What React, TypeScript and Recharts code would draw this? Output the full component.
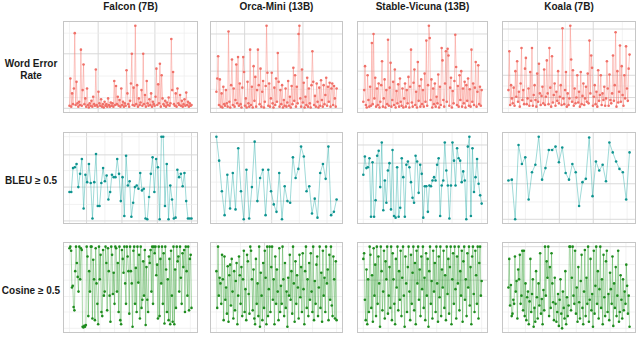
import React from 'react';
import { LineChart, Line, XAxis, YAxis, ReferenceLine } from 'recharts';

// column titles and row labels
const models = ['Falcon (7B)', 'Orca-Mini (13B)', 'Stable-Vicuna (13B)', 'Koala (7B)'];
const metrics = [['Word Error', 'Rate'], ['BLEU ≥ 0.5'], ['Cosine ≥ 0.5']];

// Word error rate (scaled 0-100 of each panel's range)
const werFalcon = [
  3, 36, 2, 18, 5, 24, 91, 4, 32, 6, 2, 8, 4, 71, 3, 22, 53, 5, 12, 2,
  24, 4, 1, 6, 3, 9, 2, 14, 5, 3, 47, 4, 2, 20, 6, 3, 11, 2, 5, 1,
  8, 3, 5, 2, 12, 4, 2, 7, 3, 6, 2, 33, 4, 27, 5, 14, 3, 10, 2, 24,
  4, 8, 2, 6, 3, 46, 18, 5, 2, 9, 30, 66, 4, 25, 3, 100, 5, 28, 2, 12,
  4, 7, 22, 3, 66, 5, 16, 2, 33, 6, 3, 11, 4, 18, 2, 8, 5, 3, 14, 48,
  4, 29, 6, 54, 2, 40, 12, 5, 3, 9, 2, 7, 4, 13, 3, 6, 84, 22, 44, 5,
  3, 18, 2, 24, 6, 4, 16, 3, 9, 2, 5, 11, 3, 19, 4, 8, 2, 6, 3, 4,
];
const werOrca = [
  20, 36, 63, 4, 35, 2, 18, 1, 26, 5, 3, 22, 6, 2, 93, 8, 1, 28, 59, 4,
  24, 2, 10, 53, 6, 62, 3, 30, 5, 1, 25, 62, 44, 3, 12, 1, 32, 6, 2, 71,
  4, 26, 1, 51, 9, 38, 2, 22, 71, 28, 5, 48, 2, 20, 33, 1, 8, 27, 100, 43,
  3, 30, 2, 12, 43, 6, 1, 25, 4, 36, 8, 67, 32, 2, 22, 5, 28, 1, 10, 3,
  24, 2, 7, 33, 3, 14, 1, 27, 5, 49, 9, 40, 2, 26, 6, 90, 100, 12, 2, 47,
  7, 31, 1, 14, 4, 37, 2, 24, 6, 1, 28, 69, 32, 4, 15, 2, 30, 8, 1, 25,
  3, 34, 10, 2, 28, 5, 16, 37, 3, 26, 8, 31, 2, 24, 30, 4, 27, 12, 2, 24,
];
const werStable = [
  8, 22, 51, 4, 1, 40, 10, 2, 26, 3, 79, 5, 90, 12, 37, 2, 24, 4, 30, 1,
  8, 28, 57, 2, 12, 35, 1, 22, 5, 83, 3, 25, 55, 2, 10, 32, 4, 47, 1, 21,
  6, 29, 2, 36, 8, 3, 24, 1, 12, 30, 2, 22, 6, 38, 1, 26, 71, 7, 2, 31,
  47, 4, 20, 1, 56, 9, 27, 2, 35, 5, 22, 2, 42, 8, 82, 3, 28, 100, 85, 10,
  35, 1, 24, 5, 30, 2, 14, 6, 41, 1, 26, 4, 73, 58, 10, 2, 30, 69, 8, 72,
  64, 3, 25, 37, 1, 21, 6, 33, 89, 50, 4, 27, 2, 40, 10, 45, 2, 24, 6, 32,
  1, 28, 9, 36, 3, 23, 2, 71, 8, 30, 4, 25, 56, 2, 20, 52, 5, 26, 3, 22,
];
const werKoala = [
  22, 69, 4, 28, 12, 6, 25, 3, 45, 14, 57, 8, 20, 2, 30, 73, 10, 22, 5, 48,
  61, 5, 12, 24, 3, 44, 9, 73, 3, 16, 28, 10, 2, 42, 8, 54, 18, 4, 15, 26,
  6, 47, 4, 14, 58, 18, 5, 73, 25, 2, 63, 7, 16, 30, 3, 20, 9, 45, 6, 14,
  28, 4, 97, 12, 5, 22, 44, 2, 18, 4, 12, 100, 59, 8, 46, 3, 24, 6, 13, 40,
  7, 20, 2, 44, 5, 15, 30, 4, 12, 26, 8, 42, 6, 82, 18, 64, 49, 3, 14, 28,
  5, 20, 2, 46, 9, 16, 40, 4, 18, 10, 26, 3, 12, 57, 24, 3, 41, 10, 6, 18,
  64, 9, 28, 92, 2, 45, 7, 20, 76, 8, 51, 16, 3, 40, 12, 75, 24, 9, 48, 65,
];

// BLEU >= 0.5
const bleuFalcon = [
  33, 33, 62, 63, 67, 39, 55, 73, 13, 54, 45, 67, 44, 1, 45, 79, 16, 16, 44, 62,
  46, 53, 24, 33, 54, 51, 51, 73, 55, 22, 51, 4, 77, 41, 46, 3, 20, 39, 41, 37,
  56, 35, 37, 1, 0, 27, 55, 75, 33, 73, 63, 0, 100, 100, 16, 67, 0, 41, 24, 1,
  2, 60, 51, 55, 40, 56, 22, 1, 1, 1,
];
const bleuOrca = [
  100, 71, 34, 5, 54, 13, 56, 12, 86, 34, 0, 60, 1, 39, 94, 22, 50, 60, 5, 60,
  34, 18, 9, 56, 0, 40, 22, 20, 75, 50, 61, 88, 76, 34, 40, 7, 25, 2, 56, 67,
  49, 88, 5, 9, 24,
];
const bleuStable = [
  54, 76, 62, 63, 74, 3, 69, 3, 23, 77, 83, 39, 93, 11, 47, 20, 59, 68, 12, 84,
  4, 2, 63, 3, 14, 74, 51, 3, 66, 70, 63, 45, 26, 20, 77, 70, 32, 66, 55, 2,
  40, 40, 9, 41, 40, 47, 51, 47, 66, 74, 4, 41, 47, 93, 59, 41, 1, 41, 93, 71,
  41, 86, 74, 71, 45, 58, 47, 0, 88, 100, 4, 86, 33, 51, 73, 43, 29, 19,
];
const bleuKoala = [
  47, 48, 0, 90, 67, 75, 24, 57, 66, 100, 48, 62, 84, 84, 88, 69, 87, 56, 48, 67,
  57, 16, 45, 49, 99, 28, 70, 59, 66, 46, 93, 81, 70, 61, 57, 24, 81,
];

// Cosine >= 0.5
const cosFalcon = [
  98, 100, 95, 50, 52, 26, 22, 70, 100, 80, 63, 45, 100, 60, 98, 96, 2, 1, 3, 2,
  4, 100, 88, 15, 70, 45, 100, 100, 12, 84, 60, 10, 98, 55, 30, 5, 100, 60, 90, 20,
  15, 96, 40, 45, 100, 80, 22, 98, 70, 40, 8, 100, 90, 42, 68, 30, 100, 98, 45, 80,
  20, 100, 10, 5, 96, 85, 68, 100, 55, 30, 100, 88, 70, 18, 100, 70, 55, 2, 95, 100,
  30, 74, 20, 100, 56, 90, 12, 100, 25, 35, 82, 40, 96, 4, 75, 35, 20, 88, 80, 96,
  45, 100, 30, 100, 92, 100, 65, 78, 12, 100, 15, 85, 55, 100, 30, 92, 6, 100, 72, 20,
  60, 10, 85, 5, 95, 40, 8, 100, 5, 72, 25, 100, 82, 88, 45, 100, 62, 30, 92, 75,
  96, 20, 100, 70, 40, 100, 22, 85, 90, 25,
];
const cosOrca = [
  70, 25, 100, 40, 62, 55, 30, 90, 60, 10, 88, 35, 50, 18, 76, 8, 65, 78, 28, 85,
  45, 12, 70, 22, 58, 80, 5, 40, 88, 65, 30, 75, 15, 60, 95, 20, 48, 10, 90, 82,
  42, 18, 100, 95, 60, 22, 72, 12, 5, 85, 30, 55, 15, 100, 2, 68, 40, 10, 80, 25,
  95, 62, 5, 100, 15, 48, 100, 20, 75, 100, 35, 60, 5, 88, 30, 72, 45, 10, 98, 20,
  52, 30, 100, 60, 15, 80, 25, 45, 2, 62, 40, 90, 35, 70, 18, 100, 55, 8, 82, 30,
  65, 50, 12, 90, 38, 75, 20, 92, 48, 5, 70, 100, 25, 60, 15, 80, 35, 92, 45, 20,
  100, 10, 58, 30, 78, 88, 15, 50, 100, 25, 68, 8, 95, 40, 62, 20, 100, 55, 72, 10,
  90, 35, 100, 28, 15, 88, 60, 12, 82, 10,
];
const cosStable = [
  85, 92, 35, 10, 72, 5, 60, 20, 100, 90, 25, 65, 8, 98, 40, 78, 15, 100, 30, 88,
  55, 2, 100, 70, 22, 45, 95, 12, 82, 60, 100, 18, 40, 75, 25, 100, 10, 92, 60, 30,
  5, 85, 50, 100, 22, 70, 35, 95, 15, 62, 100, 40, 2, 88, 55, 20, 75, 100, 45, 10,
  90, 30, 68, 100, 22, 80, 5, 95, 55, 100, 35, 72, 15, 88, 48, 100, 25, 62, 10, 92,
  40, 85, 2, 70, 100, 30, 58, 12, 95, 45, 80, 20, 100, 55, 8, 88, 38, 100, 15, 72,
  50, 95, 25, 65, 10, 100, 42, 85, 18, 75, 100, 5, 60, 92, 30, 100, 48, 12, 88, 55,
  100, 22, 70, 40, 95, 8, 82, 100, 35, 60, 15, 92, 50, 100, 28, 75, 5, 88, 100, 42,
  20, 95, 65, 30, 100, 12, 80, 100, 40, 58,
];
const cosKoala = [
  50, 85, 28, 53, 15, 18, 35, 30, 88, 45, 58, 12, 72, 60, 90, 30, 40, 95, 22, 95,
  15, 55, 10, 38, 45, 5, 33, 85, 20, 42, 60, 2, 25, 8, 70, 38, 12, 55, 28, 92,
  18, 36, 5, 47, 22, 100, 40, 82, 62, 100, 15, 75, 25, 92, 55, 32, 10, 62, 30, 8,
  20, 42, 3, 35, 60, 18, 0, 45, 25, 12, 70, 5, 38, 15, 28, 100, 100, 22, 62, 100,
  40, 30, 95, 18, 50, 8, 75, 32, 12, 58, 90, 25, 5, 45, 96, 15, 62, 30, 100, 8,
  35, 85, 22, 42, 2, 95, 18, 52, 100, 30, 70, 12, 48, 100, 25, 60, 5, 90, 38, 15,
  82, 95, 20, 42, 10, 68, 48, 30, 88, 3, 55, 25, 75, 15, 40, 95, 8, 20, 65, 35,
  12, 60, 22, 45, 30, 78, 52, 18, 40, 2,
];

const series = [
  [werFalcon, werOrca, werStable, werKoala],
  [bleuFalcon, bleuOrca, bleuStable, bleuKoala],
  [cosFalcon, cosOrca, cosStable, cosKoala],
];

const rowStyle = [
  { line: '#F8766D', lineOpacity: 0.45, width: 0.9, dot: '#F07068', r: 1.3 },
  { line: '#22AAA6', lineOpacity: 0.55, width: 0.8, dot: '#0F9490', r: 1.3 },
  { line: '#2E9E2E', lineOpacity: 0.5, width: 0.8, dot: '#1E8C1E', r: 1.3 },
];

// panel boxes
const colX = [63, 210, 357, 502];
const colW = [135, 133, 131, 134];
const rowY = [21, 132, 242];
const rowH = [92, 92, 91];

// gridlines: [fraction, isMajor]
type G = [number, number];
const vGrid: G[][][] = [
  [
    [[0, 0], [0.235, 1], [0.47, 0], [0.7, 1], [0.94, 0]],
    [[0, 0], [0.235, 1], [0.47, 0], [0.72, 1], [0.96, 0]],
    [[0, 0], [0.23, 1], [0.46, 0], [0.7, 1], [0.93, 0]],
    [[0, 0], [0.24, 1], [0.47, 0], [0.7, 1], [0.94, 0]],
  ],
  [
    [[0, 0], [0.14, 1], [0.29, 0], [0.43, 1], [0.57, 0], [0.72, 1], [0.86, 0], [1.0, 1]],
    [[0, 0], [0.23, 1], [0.46, 1], [0.69, 0], [0.92, 0]],
    [[0, 0], [0.25, 0], [0.5, 1], [0.75, 0], [1.0, 0]],
    [[0, 0], [0.14, 0], [0.28, 0], [0.42, 1], [0.56, 0], [0.7, 1], [0.84, 0], [0.98, 0]],
  ],
  [
    [[0, 0], [0.12, 0], [0.25, 0], [0.37, 0], [0.49, 0], [0.62, 0], [0.74, 0], [0.86, 0], [0.99, 0]],
    [[0, 0], [0.2, 0], [0.4, 1], [0.6, 0], [0.8, 0], [1.0, 0]],
    [[0, 0], [0.21, 0], [0.42, 0], [0.62, 0], [0.82, 0], [1.0, 0]],
    [[0, 0], [0.14, 0], [0.28, 0], [0.42, 0], [0.56, 0], [0.7, 0], [0.84, 0], [0.97, 0]],
  ],
];
const hGrid: G[][][] = [
  [
    [[0, 1], [0.13, 0], [0.39, 0], [0.66, 1], [0.91, 0]],
    [[0, 1], [0.23, 0], [0.45, 1], [0.68, 0], [0.9, 1]],
    [[0, 0], [0.23, 0], [0.45, 1], [0.68, 0], [0.9, 1]],
    [[0, 0], [0.13, 1], [0.27, 0], [0.4, 1], [0.82, 0], [0.96, 1]],
  ],
  [
    [[-0.02, 1], [0.18, 0], [0.39, 1], [0.59, 0], [0.78, 1], [1.0, 0]],
    [[-0.02, 0], [0.22, 1], [0.45, 0], [0.69, 0], [0.93, 1]],
    [[0, 0], [0.22, 1], [0.46, 0], [0.68, 1], [0.9, 1]],
    [[0, 1], [0.21, 0], [0.43, 1], [0.64, 0], [0.84, 0]],
  ],
  [
    [[0, 0], [0.2, 0], [0.39, 0], [0.59, 0], [0.78, 0], [1.0, 0]],
    [[0, 0], [0.2, 0], [0.39, 0], [0.59, 0], [0.78, 0], [1.0, 0]],
    [[0, 0], [0.2, 0], [0.39, 0], [0.59, 1], [0.78, 0], [1.0, 0]],
    [[0, 0], [0.2, 0], [0.39, 0], [0.59, 0], [0.78, 0], [1.0, 1]],
  ],
];

const font = '"Liberation Sans", Arial, Helvetica, sans-serif';

const Panel = ({ row, col }: { row: number; col: number }) => {
  const values = series[row][col];
  const n = values.length;
  const data = values.map((v, i) => ({ i, v: v / 100 }));
  const st = rowStyle[row];
  const w = colW[col] - 2;
  const h = rowH[row] - 2;
  const pad = (n - 1) * 0.045;
  return (
    <div
      style={{
        position: 'absolute',
        left: colX[col],
        top: rowY[row],
        width: colW[col],
        height: rowH[row],
        border: '1px solid #c6c6c6',
        boxSizing: 'border-box',
        background: '#fff',
      }}
    >
      <LineChart width={w} height={h} data={data} margin={{ top: 0, right: 0, bottom: 0, left: 0 }}>
        <XAxis type="number" dataKey="i" domain={[-pad, n - 1 + pad]} hide />
        <YAxis type="number" domain={[-0.045, 1.045]} hide />
        {vGrid[row][col].map(([f, m], k) => (
          <ReferenceLine key={'v' + k} x={f * (n - 1)} stroke={m ? '#d9d9d9' : '#ededed'} strokeWidth={m ? 1 : 0.7} />
        ))}
        {hGrid[row][col].map(([f, m], k) => (
          <ReferenceLine key={'h' + k} y={f} stroke={m ? '#d9d9d9' : '#ededed'} strokeWidth={m ? 1 : 0.7} />
        ))}
        <Line
          type="linear"
          dataKey="v"
          stroke={st.line}
          strokeOpacity={st.lineOpacity}
          strokeWidth={st.width}
          dot={{ r: st.r, fill: st.dot, stroke: 'none' }}
          isAnimationActive={false}
        />
      </LineChart>
    </div>
  );
};

export default function App() {
  return (
    <div
      style={{
        position: 'fixed',
        left: 0,
        top: 0,
        width: 640,
        height: 342,
        background: '#fff',
        fontFamily: font,
      }}
    >
      {models.map((m, c) => (
        <div
          key={m}
          style={{
            position: 'absolute',
            left: colX[c],
            width: colW[c],
            top: 1,
            textAlign: 'center',
            fontWeight: 'bold',
            fontSize: 10,
            color: '#1a1a1a',
          }}
        >
          {m}
        </div>
      ))}
      {metrics.map((lines, r) => (
        <div
          key={r}
          style={{
            position: 'absolute',
            left: 0,
            width: 62,
            top: rowY[r] + rowH[r] / 2 + (lines.length > 1 ? -9 : -3),
            textAlign: 'center',
            fontWeight: 'bold',
            fontSize: 10,
            lineHeight: '12px',
            color: '#1a1a1a',
          }}
        >
          {lines.map((l) => (
            <div key={l}>{l}</div>
          ))}
        </div>
      ))}
      {series.map((rowSeries, r) => rowSeries.map((_, c) => <Panel key={r + '-' + c} row={r} col={c} />))}
    </div>
  );
}
